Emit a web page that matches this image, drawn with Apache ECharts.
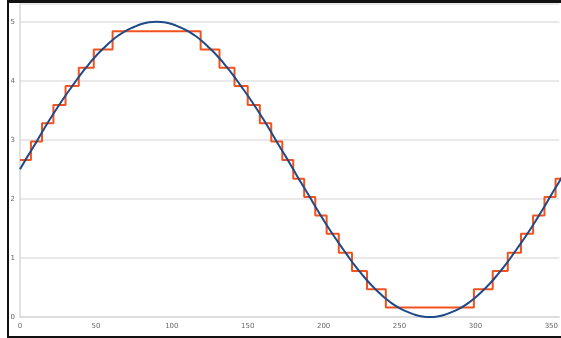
<!DOCTYPE html>
<html>
<head>
<meta charset="utf-8">
<script src="https://cdn.jsdelivr.net/npm/echarts@6/dist/echarts.min.js"></script>
<style>
  html, body { margin: 0; padding: 0; background: #fff; }
  #chart { width: 561px; height: 338px; }
</style>
</head>
<body>
<div id="chart"></div>
<script>
// smooth curve, read every 5 degrees
var curveX = [0,5,10,15,20,25,30,35,40,45,50,55,60,65,70,75,80,85,90,95,100,105,110,115,120,125,130,135,140,145,150,155,160,165,170,175,180,185,190,195,200,205,210,215,220,225,230,235,240,245,250,255,260,265,270,275,280,285,290,295,300,305,310,315,320,325,330,335,340,345,350,355,360];
var curveY = [2.50,2.72,2.93,3.15,3.36,3.56,3.75,3.93,4.11,4.27,4.42,4.55,4.67,4.77,4.85,4.91,4.96,4.99,5.00,4.99,4.96,4.91,4.85,4.77,4.67,4.55,4.42,4.27,4.11,3.93,3.75,3.56,3.36,3.15,2.93,2.72,2.50,2.28,2.07,1.85,1.64,1.44,1.25,1.07,0.89,0.73,0.58,0.45,0.33,0.23,0.15,0.09,0.04,0.01,0.00,0.01,0.04,0.09,0.15,0.23,0.33,0.45,0.58,0.73,0.89,1.07,1.25,1.44,1.64,1.85,2.07,2.28,2.50];

// staircase: level held from each x until the next
var stepX = [0,7.2,14.5,22,30,38.7,48.6,61,119,131.4,141.3,150,158,165.5,172.8,180,187.2,194.5,202,210,218.7,228.6,241,299,311.4,321.3,330,338,345.5,352.8,360];
var stepY = [2.66,2.97,3.28,3.59,3.91,4.22,4.53,4.84,4.53,4.22,3.91,3.59,3.28,2.97,2.66,2.34,2.03,1.72,1.41,1.09,0.78,0.47,0.16,0.47,0.78,1.09,1.41,1.72,2.03,2.34,2.66];

var xTicks = [0, 50, 100, 150, 200, 250, 300, 350];
var yTicks = [0, 1, 2, 3, 4, 5];

function pairs(xs, ys) {
  var out = [];
  for (var i = 0; i < xs.length; i++) out.push([xs[i], ys[i]]);
  return out;
}

var chart = echarts.init(document.getElementById('chart'));
var option = {
  backgroundColor: '#fff',
  animation: false,
  grid: { left: 20, right: 0, top: 4, bottom: 21 },
  xAxis: {
    type: 'value', min: 0, max: 355.2, interval: 50,
    axisLine: { show: true, lineStyle: { color: '#d9d9d9', width: 1.5 } },
    axisTick: { show: false },
    splitLine: { show: false },
    axisLabel: {
      color: '#666', fontSize: 7, fontFamily: 'DejaVu Sans', margin: 6,
      showMaxLabel: false,
      formatter: function (v) { return xTicks.indexOf(v) >= 0 ? String(v) : ''; }
    }
  },
  yAxis: {
    type: 'value', min: 0, max: 5.3, interval: 1,
    axisLine: { show: true, lineStyle: { color: '#d9d9d9', width: 1.5 } },
    axisTick: { show: false },
    splitLine: { show: true, lineStyle: { color: '#e2e2e2', width: 1.5 } },
    axisLabel: {
      color: '#666', fontSize: 7, fontFamily: 'DejaVu Sans', margin: 5,
      formatter: function (v) { return yTicks.indexOf(v) >= 0 ? String(v) : ''; }
    }
  },
  graphic: [
    { type: 'rect', left: 7, top: 0, shape: { width: 554, height: 3 }, style: { fill: '#111' }, z: 100 },
    { type: 'rect', left: 7, top: 0, shape: { width: 2, height: 338 }, style: { fill: '#111' }, z: 100 },
    { type: 'rect', left: 7, top: 336, shape: { width: 554, height: 2 }, style: { fill: '#111' }, z: 100 }
  ],
  series: [
    {
      name: 'quantized', type: 'line', step: 'end', symbol: 'none',
      lineStyle: { color: '#f2521d', width: 2 },
      data: pairs(stepX, stepY)
    },
    {
      name: 'sine', type: 'line', smooth: true, symbol: 'none',
      lineStyle: { color: '#1f4a88', width: 2 },
      data: pairs(curveX, curveY)
    }
  ]
};
chart.setOption(option);
</script>
</body>
</html>
